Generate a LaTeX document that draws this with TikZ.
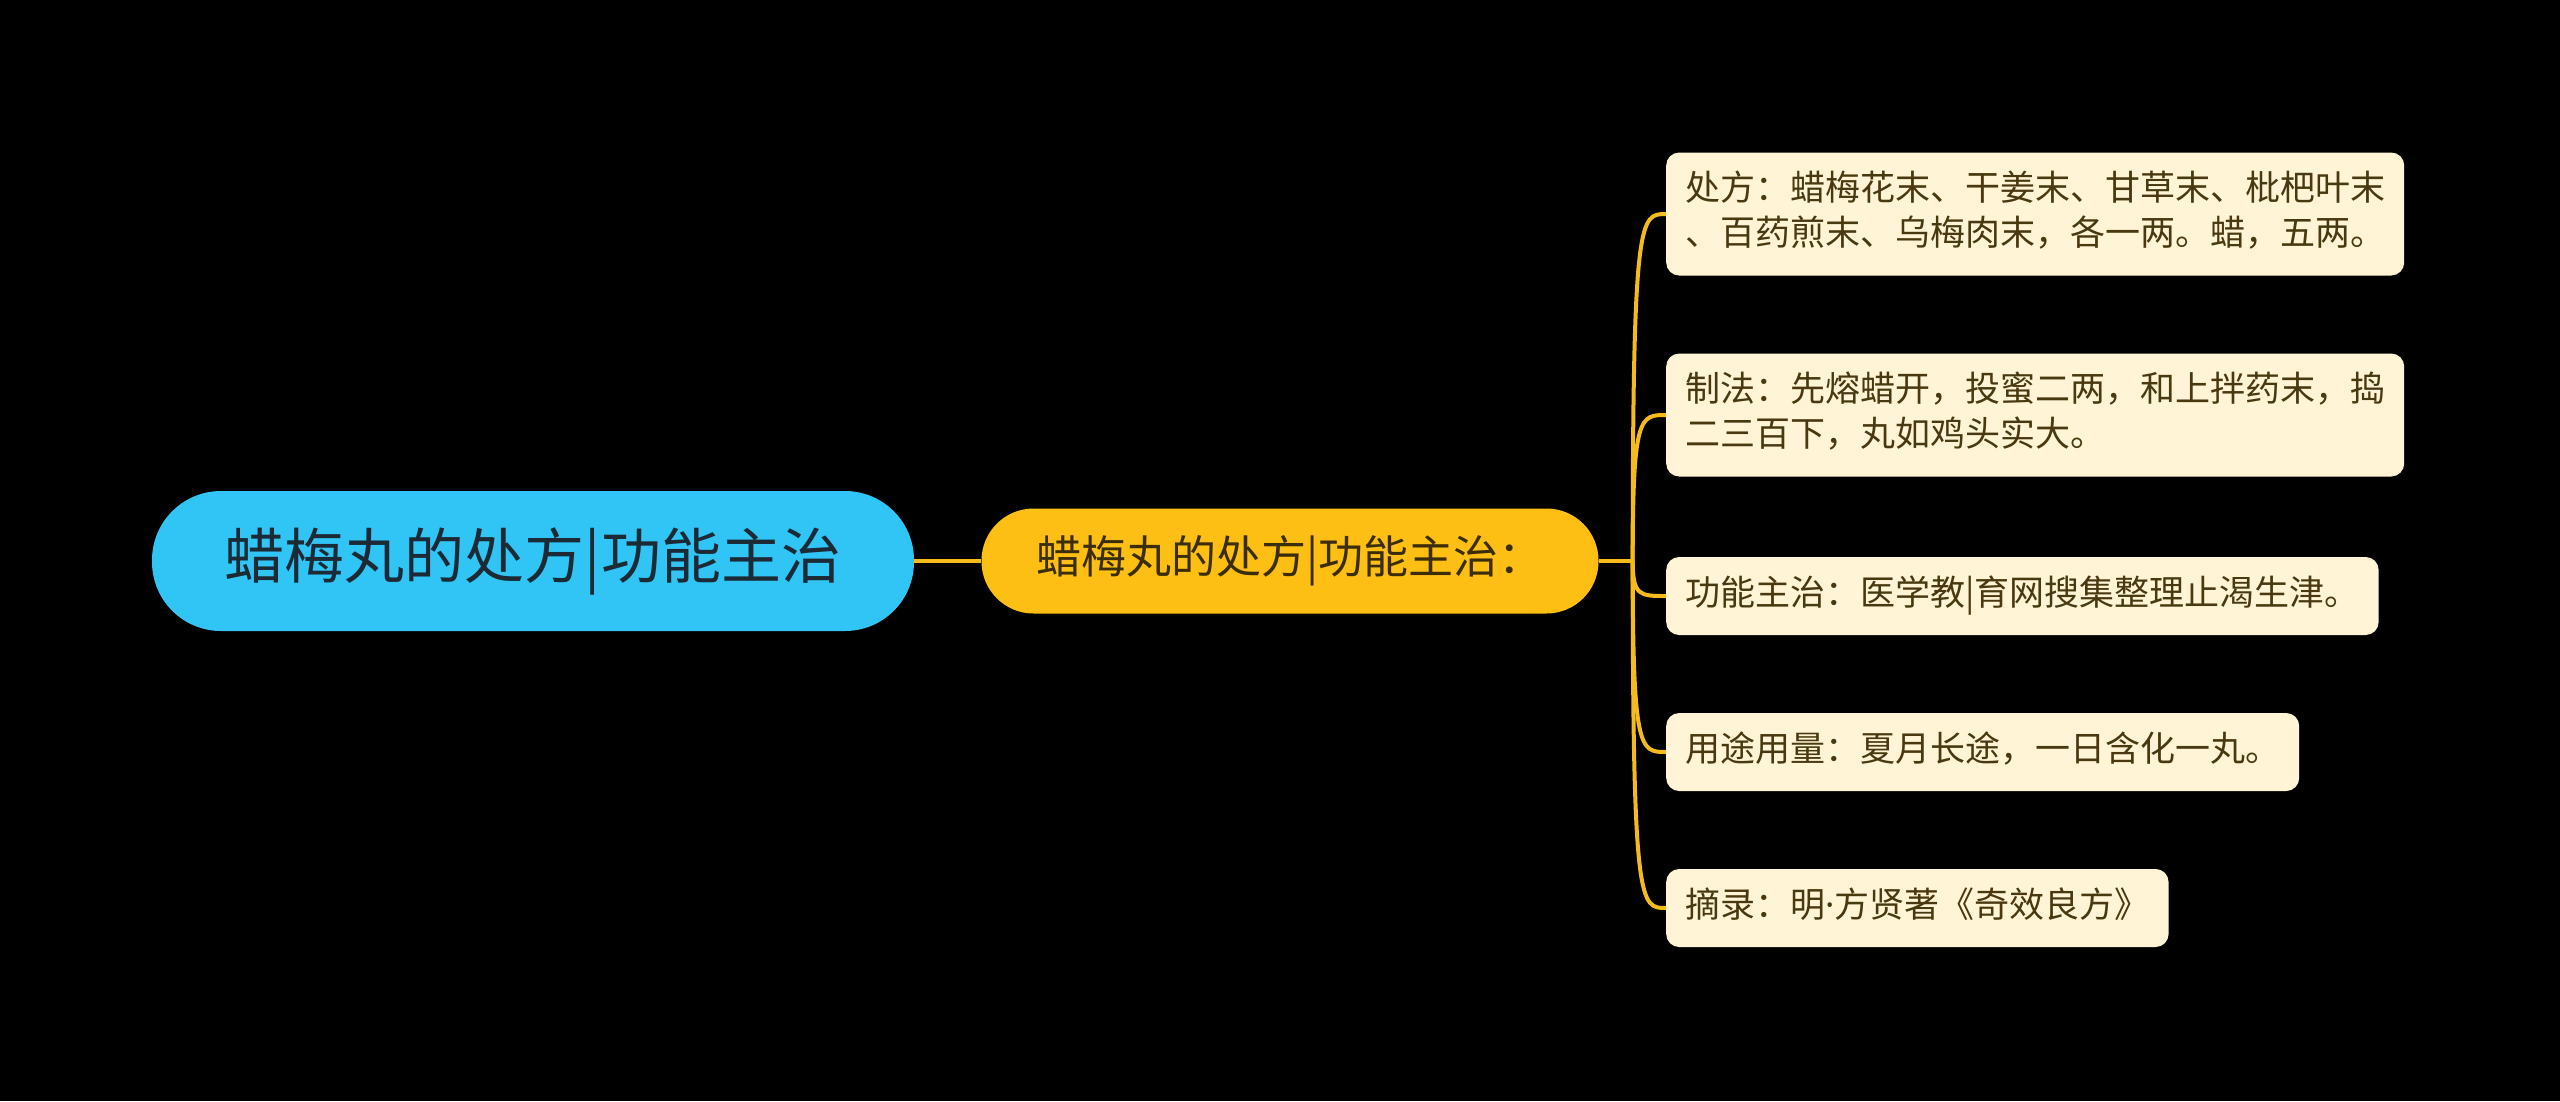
\documentclass[tikz,border=0pt]{standalone}
\usepackage{fontspec}
\setmainfont{Noto Sans CJK SC}
\newfontfamily\dotfont{Noto Sans}
\usetikzlibrary{calc}

\definecolor{rootfill}{HTML}{31C5F6}
\definecolor{roottext}{HTML}{1C2A35}
\definecolor{midfill}{HTML}{FDBF14}
\definecolor{midtext}{HTML}{3A2D08}
\definecolor{leaffill}{HTML}{FFF4D6}
\definecolor{leaftext}{HTML}{4A3810}
\definecolor{branch}{HTML}{F5BA1B}

\begin{document}
\begin{tikzpicture}[x=1pt, y=-1pt,
    rootbox/.style={fill=rootfill, text=roottext, rounded corners=69pt,
        minimum width=762pt, minimum height=140pt,
        font=\fontsize{60}{72}\selectfont},
    midbox/.style={fill=midfill, text=midtext, rounded corners=52pt,
        minimum width=617pt, minimum height=105pt,
        font=\fontsize{45}{54}\selectfont},
    leafbox/.style={fill=leaffill, text=leaftext, rounded corners=13pt,
        anchor=west, align=left, inner xsep=19pt, inner ysep=16.5pt,
        font=\fontsize{35}{45}\selectfont},
    branchline/.style={draw=branch, line width=4pt}]

        % Canvas
        \fill[black] (0,0) rectangle (2560,1101);

        % Geometry
        \def\midy{561}   % Height of the main line
        \def\leafx{1666} % Left edge of the leaves

        % Root and second level
        \node[rootbox] (root) at (533,\midy) {蜡梅丸的处方|功能主治};
        \node[midbox] (mid) at (1290,\midy) {蜡梅丸的处方|功能主治：};

        % Leaves
        \node[leafbox] (recipe) at (\leafx,214)
            {\strut 处方：蜡梅花末、干姜末、甘草末、枇杷叶末\\\strut 、百药煎末、乌梅肉末，各一两。蜡，五两。};
        \node[leafbox] (method) at (\leafx,415)
            {\strut 制法：先熔蜡开，投蜜二两，和上拌药末，捣\\\strut 二三百下，丸如鸡头实大。};
        \node[leafbox] (effect) at (\leafx,596) {\strut 功能主治：医学教|育网搜集整理止渴生津。};
        \node[leafbox] (dosage) at (\leafx,752) {\strut 用途用量：夏月长途，一日含化一丸。};
        \node[leafbox] (source) at (\leafx,908) {\strut 摘录：明{\dotfont ·}方贤著《奇效良方》};

        % Connectors
        \draw[branchline] (root.east) -- (mid.west);
        \coordinate (fork) at ($(mid.east)+(34,0)$);
        \draw[branchline] (mid.east) -- (fork);
        \foreach \leaf in {recipe,method,effect,dosage,source} {
            \draw[branchline] (fork) .. controls (fork |- \leaf.west)
                and ($(\leaf.west)+(-26,0)$) .. (\leaf.west);
        }

    \end{tikzpicture}
\end{document}
